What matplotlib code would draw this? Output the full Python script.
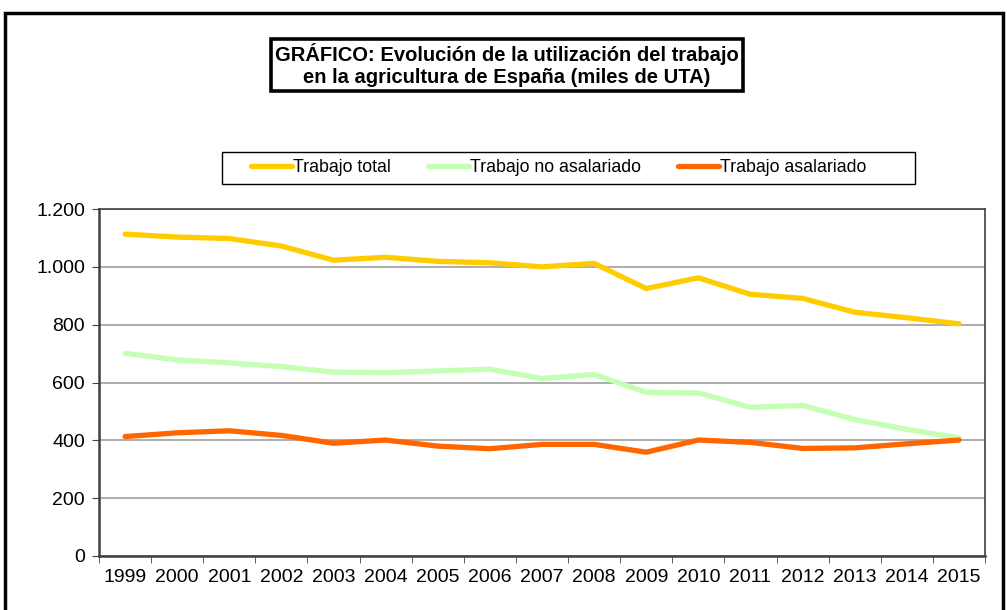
import numpy as np
import matplotlib.pyplot as plt
from matplotlib.patches import Rectangle
from matplotlib.ticker import FuncFormatter

plt.rcParams['font.family'] = ['Liberation Sans', 'DejaVu Sans']

years = [str(y) for y in range(1999, 2016)]

trabajo_total = [1113, 1103, 1098, 1072, 1023, 1033, 1019, 1014, 1000, 1012,
                 925, 962, 905, 891, 843, 824, 803]
trabajo_no_asalariado = [701, 678, 668, 655, 636, 634, 640, 646, 614, 628,
                         566, 564, 514, 521, 472, 438, 409]
trabajo_asalariado = [413, 426, 433, 417, 390, 401, 380, 371, 386, 386,
                      359, 401, 393, 372, 374, 388, 401]

W, H = 1007, 610
fig = plt.figure(figsize=(W / 100, H / 100), dpi=100)

# outer frame of the chart
fig.patches.append(Rectangle((5 / W, -0.05), 998 / W, 1.05 - 13 / H,
                             transform=fig.transFigure, fill=False,
                             edgecolor="black", linewidth=2.5, clip_on=False))

ax = fig.add_axes([99 / W, 54 / H, 886 / W, 347 / H])
x = np.arange(len(years))
ax.plot(x, trabajo_total, color="#FFCC00", lw=3.8, label="Trabajo total",
        solid_capstyle="round", solid_joinstyle="round")
ax.plot(x, trabajo_no_asalariado, color="#C4FFB4", lw=3.8,
        label="Trabajo no asalariado", solid_capstyle="round",
        solid_joinstyle="round")
ax.plot(x, trabajo_asalariado, color="#FF6600", lw=3.8,
        label="Trabajo asalariado", solid_capstyle="round",
        solid_joinstyle="round")

ax.set_xlim(-0.5, len(years) - 0.5)
ax.set_ylim(0, 1200)
ax.set_yticks(np.arange(0, 1201, 200))
ax.yaxis.set_major_formatter(FuncFormatter(lambda v, p: f"{int(v):,}".replace(",", ".")))
ax.set_xticks(x)
ax.set_xticklabels(years)
ax.set_xticks(np.arange(-0.5, len(years)), minor=True)
ax.tick_params(axis="x", which="major", length=0, pad=9, labelsize=14)
ax.tick_params(axis="x", which="minor", length=5, direction="out", color="#404040")
ax.tick_params(axis="y", length=5, direction="out", labelsize=14, pad=5, color="#404040")
ax.grid(axis="y", color="#A0A0A0", lw=1.2)
ax.set_axisbelow(True)
for s in ax.spines.values():
    s.set_color("#404040")
    s.set_linewidth(1.2)
ax.spines["bottom"].set_linewidth(1.8)
ax.spines["left"].set_linewidth(1.8)

fig.text(507 / W, 1 - 65 / H,
         "GRÁFICO: Evolución de la utilización del trabajo\nen la agricultura de España (miles de UTA)",
         ha="center", va="center", fontsize=14.5, fontweight="bold",
         linespacing=1.15,
         bbox=dict(boxstyle="square,pad=0.22", facecolor="white",
                   edgecolor="black", linewidth=2.6))

# legend box drawn separately so its padding matches
fig.patches.append(Rectangle((222 / W, 1 - 184 / H), 693 / W, 32 / H,
                             transform=fig.transFigure, fill=False,
                             edgecolor="black", linewidth=1.0))
leg = fig.legend(loc="center", bbox_to_anchor=(559 / W, 1 - 168 / H),
                 ncol=3, frameon=False, fontsize=12.8,
                 handlelength=2.3, handletextpad=0.05, columnspacing=2.1,
                 borderpad=0.2, borderaxespad=0)

fig.savefig("out.png", dpi=100)
